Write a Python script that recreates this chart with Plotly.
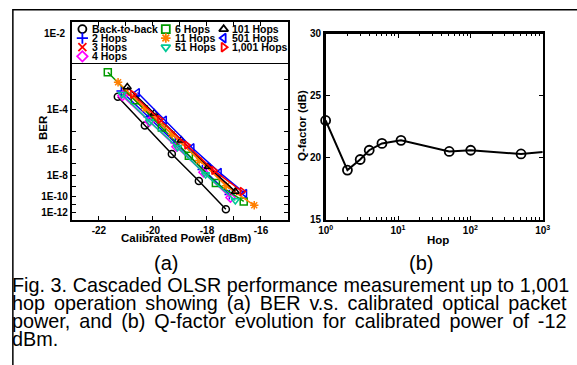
import math
from statistics import NormalDist
import plotly.graph_objects as go

W, H = 577, 365

# ---------------- Panel (a) data: calibrated power (dBm) vs BER ----------------
power_b2b = [-21.3, -20.3, -19.3, -18.3, -17.3]
ber_b2b = [2.9e-4, 2.0e-5, 4.7e-7, 3.5e-9, 2.7e-12]
power_2 = [-21.17, -20.17, -19.17, -18.17, -17.17]
ber_2 = [4.5e-4, 4.9e-5, 2.4e-6, 3.4e-8, 1.5e-10]
power_3 = [-21.0, -20.0, -19.0, -18.0, -17.0]
ber_3 = [4.2e-4, 4.9e-5, 2.8e-6, 5.5e-8, 3.2e-10]
power_4 = [-21.13, -20.13, -19.13, -18.13, -17.13]
ber_4 = [3.1e-4, 3.0e-5, 1.4e-6, 2.0e-8, 7.0e-11]
power_6 = [-21.67, -20.67, -19.67, -18.67, -17.67, -16.64]
ber_6 = [1.55e-3, 2.2e-4, 1.6e-5, 3.6e-7, 2.3e-9, 2.5e-11]
power_11 = [-21.29, -20.29, -19.29, -18.29, -17.29, -16.25]
ber_11 = [8.3e-4, 1.1e-4, 7.2e-6, 1.65e-7, 1.2e-9, 8.5e-12]
power_51 = [-21.14, -20.12, -19.09, -18.05, -16.95]
ber_51 = [3.5e-4, 3.0e-5, 1.3e-6, 1.3e-8, 3.2e-11]
power_101 = [-20.95, -19.95, -18.95, -17.95, -16.95]
ber_101 = [6.0e-4, 7.0e-5, 3.4e-6, 6.0e-8, 3.2e-10]
power_501 = [-20.57, -19.57, -18.55, -17.54, -16.6]
ber_501 = [4.0e-4, 3.5e-5, 1.2e-6, 2.0e-8, 2.0e-10]
power_1001 = [-20.75, -19.75, -18.75, -17.75, -16.7]
ber_1001 = [3.5e-4, 3.8e-5, 1.75e-6, 2.9e-8, 3.2e-10]

series_names = ["Back-to-back", "2 Hops", "3 Hops", "4 Hops", "6 Hops",
                "11 Hops", "51 Hops", "101 Hops", "501 Hops", "1,001 Hops"]
series_power = [power_b2b, power_2, power_3, power_4, power_6,
                power_11, power_51, power_101, power_501, power_1001]
series_ber = [ber_b2b, ber_2, ber_3, ber_4, ber_6,
              ber_11, ber_51, ber_101, ber_501, ber_1001]
series_colors = ["#000000", "#0000FF", "#FF0000", "#FF00FF", "#009A00",
                 "#FF7F00", "#00C896", "#000000", "#0000FF", "#FF0000"]
series_symbols = ["circle-open", "cross-thin-open", "x-thin-open", "diamond-open",
                  "square-open", "asterisk-open", "triangle-down-open",
                  "triangle-up-open", "triangle-left-open", "triangle-right-open"]

ber_ticks_exp = list(range(3, 14))
power_ticks = list(range(-23, -14))

# ---------------- Panel (b) data: hop vs Q-factor ----------------
hops = [1, 2, 3, 4, 6, 11, 51, 101, 501, 1001]
qfactor = [23.0, 19.0, 19.85, 20.6, 21.15, 21.4, 20.5, 20.6, 20.3, 20.45]

caption_lines = [
    "Fig. 3. Cascaded OLSR performance measurement up to 1,001",
    "hop operation showing (a) BER v.s. calibrated optical packet",
    "power, and (b) Q-factor evolution for calibrated power of -12",
    "dBm.",
]
caption_wordspacing = [0.1, 3.4, 3.45, 0]

FONT = "Liberation Sans, Arial, sans-serif"


def ber_scale(b):
    """BER axis scale: -log10(Q), Q = inverse Gaussian tail of BER."""
    return -math.log10(-NormalDist().inv_cdf(b))


def px(x):
    return x / W


def py(y):
    return 1 - y / H


fig = go.Figure()

for name, pw, br, col, sym in zip(series_names, series_power, series_ber,
                                  series_colors, series_symbols):
    fig.add_trace(go.Scatter(
        x=pw, y=[ber_scale(b) for b in br], mode="lines+markers", name=name,
        line=dict(color=col, width=1.5),
        marker=dict(symbol=sym, size=7, color=col, line=dict(color=col, width=1.5)),
        xaxis="x", yaxis="y", showlegend=False, cliponaxis=False))

fig.add_trace(go.Scatter(
    x=hops, y=qfactor, mode="lines+markers",
    line=dict(color="black", width=2),
    marker=dict(symbol="circle-open", size=9, color="black", line=dict(color="black", width=1.8)),
    xaxis="x2", yaxis="y2", showlegend=False, cliponaxis=False))

# ---------------- manual legend (3 columns) ----------------
legend_cols = [[0, 1, 2, 3], [4, 5, 6], [7, 8, 9]]
col_marker_x = [76.5, 162.3, 221.8]
col_text_x = [84.5, 170.0, 228.5]
row_y = [24.8, 34.0, 43.4, 52.8]
for c, idxs in enumerate(legend_cols):
    for r, i in enumerate(idxs):
        fig.add_trace(go.Scatter(
            x=[col_marker_x[c]], y=[row_y[r]], mode="markers",
            marker=dict(symbol=series_symbols[i], size=8, color=series_colors[i],
                        line=dict(color=series_colors[i], width=1.8)),
            xaxis="x3", yaxis="y3", showlegend=False, hoverinfo="skip", cliponaxis=False))
        fig.add_annotation(x=col_text_x[c], y=row_y[r], xref="x3", yref="y3",
                           text="<b>%s</b>" % series_names[i], showarrow=False,
                           xanchor="left", yanchor="middle",
                           font=dict(family=FONT, size=10.5, color="black"))

axis_common = dict(showline=True, linecolor="black", mirror="ticks", ticks="inside",
                   ticklen=4, tickwidth=1, tickcolor="black", showgrid=False, zeroline=False,
                   tickfont=dict(family=FONT, size=10, color="black"))

fig.update_layout(
    width=W, height=H, margin=dict(l=0, r=0, t=0, b=0),
    paper_bgcolor="white", plot_bgcolor="rgba(0,0,0,0)", hovermode=False,
    xaxis=dict(domain=[px(65.7), px(288)], range=[-23, -15], tickvals=power_ticks,
               ticktext=["<b>%d</b>" % v if v % 2 == 0 else "" for v in power_ticks],
               linewidth=2, anchor="y", **axis_common),
    yaxis=dict(domain=[py(220.7), py(17)],
               range=[ber_scale(9.6e-14), ber_scale(0.0153)],
               tickvals=[ber_scale(10.0 ** -k) for k in ber_ticks_exp],
               ticktext=["<b>1E-%d</b>" % k if k % 2 == 0 else "" for k in ber_ticks_exp],
               linewidth=2, anchor="x", **axis_common),
    xaxis2=dict(domain=[px(326.7), px(550)], type="log", range=[0, 3],
                tickvals=[1, 10, 100, 1000],
                ticktext=["<b>10<sup>%d</sup></b>" % k for k in range(4)],
                minor=dict(ticks="inside", ticklen=2.5, tickcolor="black",
                           tickvals=[m * 10 ** k for k in range(3) for m in range(2, 10)]),
                linewidth=2.5, anchor="y2", **axis_common),
    yaxis2=dict(domain=[py(220.7), py(29.5)], range=[15, 30], tickvals=[15, 20, 25, 30],
                ticktext=["<b>%d</b>" % v for v in [15, 20, 25, 30]],
                linewidth=2.5, anchor="x2", **axis_common),
    xaxis3=dict(domain=[px(65.7), px(288)], range=[65.7, 288], visible=True,
                showline=True, linecolor="black", linewidth=1, mirror=True,
                showticklabels=False, ticks="", showgrid=False, zeroline=False, anchor="y3"),
    yaxis3=dict(domain=[py(60), py(17)], range=[60, 17], showline=True,
                linecolor="black", linewidth=1, mirror=True, showticklabels=False,
                ticks="", showgrid=False, zeroline=False, anchor="x3"),
)

# 1E-2 label (tick hidden behind the legend box in the original)
fig.add_annotation(x=px(62), y=ber_scale(1e-2), xref="paper", yref="y", text="<b>1E-2</b>",
                   showarrow=False, xanchor="right", yanchor="middle",
                   font=dict(family=FONT, size=10, color="black"))

title_font = dict(family=FONT, size=11.5, color="black")
centered = dict(showarrow=False, xanchor="center", yanchor="middle", xref="paper", yref="paper")
fig.add_annotation(x=px(35.5), y=py(126), text="<b>BER</b>", textangle=-90,
                   font=title_font, **centered)
fig.add_annotation(x=px(183.8), y=py(240), text="<b>Calibrated Power (dBm)</b>",
                   font=title_font, **centered)
fig.add_annotation(x=px(302.3), y=py(123.5), text="<b>Q-factor (dB)</b>", textangle=-90,
                   font=title_font, **centered)
fig.add_annotation(x=px(442), y=py(241.5), text="<b>Hop</b>", font=title_font, **centered)

panel_font = dict(family=FONT, size=20, color="black")
fig.add_annotation(x=px(162), y=py(265), text="(a)", font=panel_font, **centered)
fig.add_annotation(x=px(425), y=py(265), text="(b)", font=panel_font, **centered)

caption_y = [287.5, 306.3, 325.1, 343.9]
for line, ws, yy in zip(caption_lines, caption_wordspacing, caption_y):
    fig.add_annotation(x=px(2), y=py(yy), xref="paper", yref="paper",
                       text='<span style="word-spacing:%.2fpx">%s</span>' % (ws, line),
                       showarrow=False, xanchor="left", yanchor="middle", align="left",
                       font=dict(family=FONT, size=19.8, color="black"))

# outer frame of the figure
fig.add_shape(type="rect", xref="paper", yref="paper", x0=px(5), x1=1.2, y0=-0.2, y1=py(5),
              line=dict(color="black", width=1.5), fillcolor="rgba(0,0,0,0)", layer="above")

fig.write_html("out.html", config={"displayModeBar": False, "staticPlot": True},
               post_script="document.body.style.margin='0';document.body.style.overflow='hidden';")
